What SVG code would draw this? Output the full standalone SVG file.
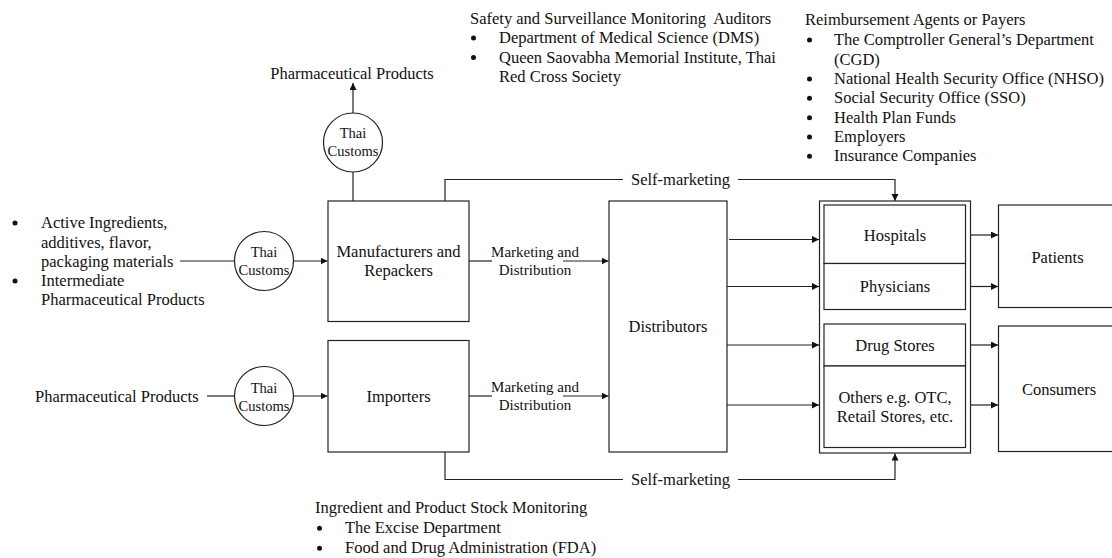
<svg xmlns="http://www.w3.org/2000/svg" width="1112" height="558" viewBox="0 0 1112 558">
  <style>
    text { font-family: "Liberation Serif", "Times New Roman", serif; font-size: 16.5px; fill: #111; }
    .c { text-anchor: middle; }
    .small { font-size: 14.5px; }
    .mk { font-size: 15px; }
    .pre { white-space: pre; }
    .box { fill: #fff; stroke: #222; stroke-width: 1.2; }
    .ln { fill: none; stroke: #222; stroke-width: 1.2; }
    .dot { fill: #111; }
  </style>
  <defs>
    <marker id="arrow" markerUnits="userSpaceOnUse" markerWidth="8" markerHeight="8" refX="7" refY="3.5" orient="auto">
      <path d="M0,0 L7,3.5 L0,7 z" fill="#111"/>
    </marker>
  </defs>

  <rect width="1112" height="558" fill="#fff"/>

  <!-- connectors -->
  <g id="connectors" class="ln">
    <!-- inputs to manufacturers -->
    <line x1="180" y1="261" x2="234.5" y2="261"/>
    <line x1="293.5" y1="261" x2="327.5" y2="261" marker-end="url(#arrow)"/>
    <!-- exports out of manufacturers -->
    <line x1="353" y1="201" x2="353" y2="172"/>
    <line x1="353" y1="113" x2="353" y2="83" marker-end="url(#arrow)"/>
    <!-- imports -->
    <line x1="207" y1="396" x2="234.5" y2="396"/>
    <line x1="293.5" y1="396" x2="327.5" y2="396" marker-end="url(#arrow)"/>
    <!-- marketing and distribution -->
    <line x1="469" y1="261" x2="492" y2="261"/>
    <line x1="563" y1="261" x2="608.5" y2="261" marker-end="url(#arrow)"/>
    <line x1="469" y1="396" x2="492" y2="396"/>
    <line x1="563" y1="396" x2="608.5" y2="396" marker-end="url(#arrow)"/>
    <!-- self-marketing -->
    <polyline points="445,201 445,179.5 623,179.5"/>
    <polyline points="738,179.5 895,179.5 895,201" marker-end="url(#arrow)"/>
    <polyline points="445,452 445,479.5 623,479.5"/>
    <polyline points="738,479.5 895,479.5 895,453.5" marker-end="url(#arrow)"/>
    <!-- distributors to providers -->
    <line x1="729" y1="239.5" x2="819" y2="239.5" marker-end="url(#arrow)"/>
    <line x1="727" y1="286.5" x2="819" y2="286.5" marker-end="url(#arrow)"/>
    <line x1="727" y1="345" x2="819" y2="345" marker-end="url(#arrow)"/>
    <line x1="727" y1="405" x2="819" y2="405" marker-end="url(#arrow)"/>
    <!-- providers to end users -->
    <line x1="970.5" y1="235" x2="998" y2="235" marker-end="url(#arrow)"/>
    <line x1="970.5" y1="286.5" x2="998" y2="286.5" marker-end="url(#arrow)"/>
    <line x1="970.5" y1="345" x2="998" y2="345" marker-end="url(#arrow)"/>
    <line x1="970.5" y1="405" x2="998" y2="405" marker-end="url(#arrow)"/>
  </g>

  <!-- connector labels -->
  <g id="connector-labels">
    <text class="c mk" x="535" y="256.5">Marketing and</text>
    <text class="c mk" x="535" y="275">Distribution</text>
    <text class="c mk" x="535" y="392">Marketing and</text>
    <text class="c mk" x="535" y="410">Distribution</text>
    <text class="c" x="680.5" y="184.5">Self-marketing</text>
    <text class="c" x="680.5" y="484.5">Self-marketing</text>
  </g>

  <!-- raw inputs -->
  <g id="raw-inputs">
    <circle class="dot" cx="15" cy="223" r="2.5"/>
    <circle class="dot" cx="15" cy="281" r="2.5"/>
    <text x="41" y="228">Active Ingredients,</text>
    <text x="41" y="247.5">additives, flavor,</text>
    <text x="41" y="267">packaging materials</text>
    <text x="41" y="286">Intermediate</text>
    <text x="41" y="305">Pharmaceutical Products</text>
  </g>

  <g id="imported-products">
    <text x="35" y="401.5">Pharmaceutical Products</text>
  </g>

  <g id="exported-products">
    <text class="c" x="352" y="78.5">Pharmaceutical Products</text>
  </g>

  <!-- customs checkpoints -->
  <g id="customs-export">
    <circle class="box" cx="353" cy="142.5" r="29.5"/>
    <text class="c small" x="353" y="138">Thai</text>
    <text class="c small" x="353" y="155.5">Customs</text>
  </g>
  <g id="customs-raw">
    <circle class="box" cx="264" cy="261" r="29.5"/>
    <text class="c small" x="264" y="257">Thai</text>
    <text class="c small" x="264" y="275">Customs</text>
  </g>
  <g id="customs-import">
    <circle class="box" cx="264" cy="396" r="29.5"/>
    <text class="c small" x="264" y="392.5">Thai</text>
    <text class="c small" x="264" y="411">Customs</text>
  </g>

  <!-- supply side -->
  <g id="manufacturers">
    <rect class="box" x="328" y="201" width="141" height="120.5"/>
    <text class="c" x="398.5" y="256.5">Manufacturers and</text>
    <text class="c" x="398.5" y="275.5">Repackers</text>
  </g>
  <g id="importers">
    <rect class="box" x="328" y="340.5" width="141" height="111.5"/>
    <text class="c" x="398.5" y="401.5">Importers</text>
  </g>
  <g id="distributors">
    <rect class="box" x="609" y="201" width="118" height="251"/>
    <text class="c" x="668" y="332">Distributors</text>
  </g>

  <!-- providers -->
  <g id="providers">
    <rect class="box" x="819.5" y="201" width="151" height="252"/>
  </g>
  <g id="hospitals">
    <rect class="box" x="824" y="205" width="141.5" height="58.5"/>
    <text class="c" x="895" y="240.5">Hospitals</text>
  </g>
  <g id="physicians">
    <rect class="box" x="824" y="263.5" width="141.5" height="46"/>
    <text class="c" x="895" y="292">Physicians</text>
  </g>
  <g id="drug-stores">
    <rect class="box" x="824" y="324" width="141.5" height="42"/>
    <text class="c" x="895" y="350.5">Drug Stores</text>
  </g>
  <g id="others">
    <rect class="box" x="824" y="366" width="141.5" height="81.5"/>
    <text class="c" x="895" y="402.5">Others e.g. OTC,</text>
    <text class="c" x="895" y="422">Retail Stores, etc.</text>
  </g>

  <!-- end users -->
  <g id="patients">
    <rect class="box" x="998.5" y="205" width="118" height="102.5"/>
    <text class="c" x="1057.5" y="263">Patients</text>
  </g>
  <g id="consumers">
    <rect class="box" x="998.5" y="326" width="118" height="125.5"/>
    <text class="c" x="1059" y="394.5">Consumers</text>
  </g>

  <!-- oversight bodies -->
  <g id="safety-auditors">
    <text class="pre" x="470" y="23.5">Safety and Surveillance Monitoring  Auditors</text>
    <circle class="dot" cx="473.5" cy="38" r="2.5"/>
    <circle class="dot" cx="473.5" cy="57.5" r="2.5"/>
    <text x="499" y="43">Department of Medical Science (DMS)</text>
    <text x="499" y="62.5">Queen Saovabha Memorial Institute, Thai</text>
    <text x="499" y="82">Red Cross Society</text>
  </g>

  <g id="payers">
    <text x="805" y="25">Reimbursement Agents or Payers</text>
    <circle class="dot" cx="809.5" cy="40" r="2.5"/>
    <circle class="dot" cx="809.5" cy="79" r="2.5"/>
    <circle class="dot" cx="809.5" cy="98.3" r="2.5"/>
    <circle class="dot" cx="809.5" cy="117.7" r="2.5"/>
    <circle class="dot" cx="809.5" cy="137" r="2.5"/>
    <circle class="dot" cx="809.5" cy="156.3" r="2.5"/>
    <text x="834" y="45">The Comptroller General’s Department</text>
    <text x="834" y="64.5">(CGD)</text>
    <text x="834" y="84">National Health Security Office (NHSO)</text>
    <text x="834" y="103.3">Social Security Office (SSO)</text>
    <text x="834" y="122.7">Health Plan Funds</text>
    <text x="834" y="142">Employers</text>
    <text x="834" y="161.3">Insurance Companies</text>
  </g>

  <g id="stock-monitoring">
    <text x="315" y="513.3">Ingredient and Product Stock Monitoring</text>
    <circle class="dot" cx="319.5" cy="528.3" r="2.5"/>
    <circle class="dot" cx="319.5" cy="548.3" r="2.5"/>
    <text x="345" y="533.3">The Excise Department</text>
    <text x="345" y="553.3">Food and Drug Administration (FDA)</text>
  </g>
</svg>
